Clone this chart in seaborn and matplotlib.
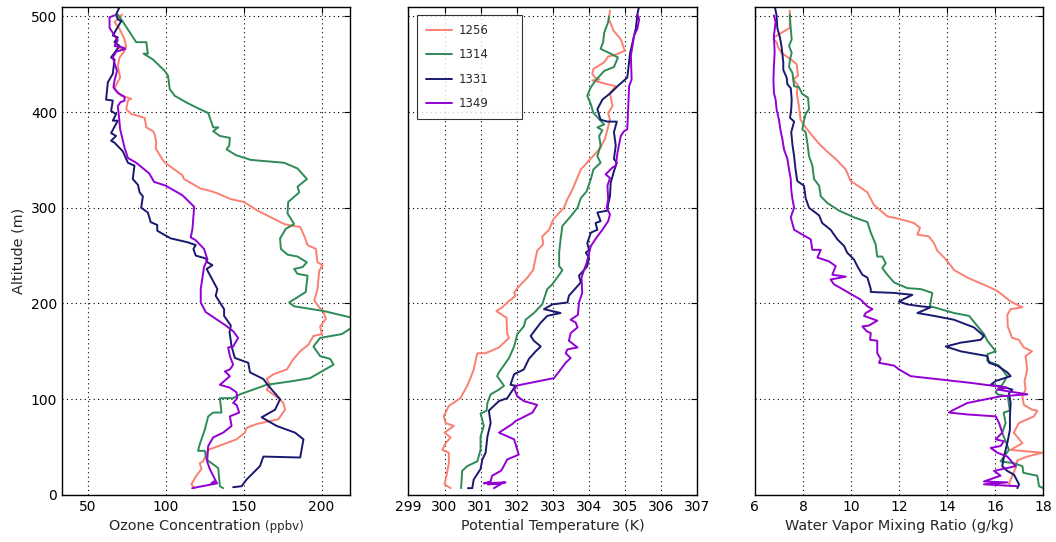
import matplotlib
matplotlib.use("Agg")
import matplotlib.pyplot as plt
import pandas as pd
import seaborn as sns

# profile times (legend) and colours
times = ["1256", "1314", "1331", "1349"]
colors = ["salmon", "seagreen", "midnightblue", "darkviolet"]

# (altitude m, value) pairs, top of profile first
# --- ozone (ppbv)
ozone_1256 = [(502, 72.1), (494, 67.2), (487, 70.4), (476, 73.6), (468, 74.7), (466, 70.8), (464, 73.8),
              (457, 70.4), (448, 69.3), (436, 70.8), (427, 67.8), (424, 67.2), (417, 71.5), (414, 77.9),
              (412, 75.8), (403, 74.7), (398, 77.9), (394, 86.5), (384, 87.6), (380, 91.8), (377, 92.9),
              (368, 94.0), (362, 93.6), (348, 98.9), (334, 110.7), (330, 111.8), (320, 122.5), (318, 127.8),
              (315, 133.2), (309, 141.8), (306, 150.3), (297, 158.9), (290, 167.5), (283, 176.0), (281, 181.4),
              (280, 186.3), (269, 189.3), (261, 191.0), (257, 196.4), (243, 197.4), (240, 200.6), (234, 198.5),
              (215, 197.4), (203, 195.3), (196, 198.5), (191, 201.3), (184, 202.8), (176, 199.1), (168, 200.2),
              (166, 194.8), (157, 191.6), (150, 186.3), (142, 182.0), (131, 177.7), (126, 169.1), (121, 164.8),
              (115, 167.0), (110, 164.8), (101, 172.3), (96, 175.5), (89, 176.6), (79, 172.3), (74, 158.4),
              (70, 151.9), (65, 150.9), (58, 145.5), (47, 127.3), (35, 124.0), (33, 121.9), (27, 123.0),
              (20, 119.7), (11, 116.5), (7, 118.6)]
ozone_1314 = [(502, 69.3), (497, 71.5), (473, 81.1), (473, 87.6), (461, 88.6), (461, 85.8), (455, 91.8),
              (443, 99.4), (438, 101.5), (424, 102.6), (417, 105.8), (410, 113.3), (403, 121.9), (399, 127.3),
              (384, 130.5), (384, 133.7), (380, 130.5), (375, 134.8), (373, 141.2), (365, 140.8), (361, 139.1),
              (355, 145.0), (350, 154.6), (347, 176.0), (341, 184.6), (330, 190.6), (322, 184.6), (316, 185.7),
              (306, 178.6), (294, 178.2), (283, 182.4), (278, 177.1), (268, 173.4), (257, 173.9), (251, 178.2),
              (249, 184.6), (243, 190.6), (238, 187.8), (236, 182.4), (231, 184.6), (229, 191.0), (212, 189.9),
              (201, 179.2), (197, 182.4), (192, 201.7), (185, 219.5), (175, 219.5), (168, 213.1), (164, 199.1),
              (155, 194.8), (145, 199.1), (142, 205.6), (136, 207.7), (128, 199.1), (122, 192.7), (119, 182.0),
              (115, 164.8), (110, 156.2), (105, 147.6), (101, 143.3), (101, 134.8), (86, 135.8), (86, 130.5),
              (82, 127.3), (68, 125.1), (53, 121.9), (46, 120.8), (46, 125.1), (37, 126.2), (28, 133.7),
              (9, 134.8), (7, 136.9)]
ozone_1331 = [(511, 70.8), (502, 68.2), (497, 69.3), (495, 71.5), (480, 66.1), (478, 69.3), (473, 67.2),
              (469, 70.4), (457, 65.0), (455, 67.2), (440, 66.1), (431, 62.9), (413, 61.8), (412, 66.1),
              (401, 65.0), (398, 68.2), (391, 66.1), (391, 69.3), (378, 65.0), (375, 68.2), (370, 65.0),
              (368, 67.2), (359, 72.5), (347, 75.8), (344, 80.0), (330, 78.9), (324, 82.2), (316, 83.3),
              (312, 85.4), (300, 84.3), (295, 88.6), (285, 90.4), (282, 94.6), (276, 94.6), (268, 103.2),
              (264, 113.9), (261, 119.3), (257, 117.8), (250, 119.3), (247, 125.7), (243, 126.8), (240, 130.0),
              (236, 126.3), (215, 133.2), (208, 132.1), (194, 137.5), (187, 137.5), (177, 141.8), (170, 141.0),
              (155, 142.3), (143, 144.4), (138, 153.0), (128, 154.1), (121, 162.7), (114, 165.9), (100, 173.4),
              (89, 170.2), (81, 161.6), (72, 171.2), (65, 183.0), (58, 188.4), (39, 186.3), (40, 162.7),
              (30, 160.5), (16, 151.9), (9, 148.7), (8, 143.3)]
ozone_1349 = [(501, 67.2), (499, 64.0), (488, 64.0), (480, 67.2), (475, 69.3), (469, 67.2), (468, 71.5),
              (466, 74.2), (463, 68.2), (457, 66.1), (448, 67.8), (443, 68.8), (433, 67.2), (426, 66.5),
              (420, 69.3), (416, 73.6), (412, 73.6), (410, 70.8), (406, 69.3), (396, 70.0), (382, 70.8),
              (363, 73.6), (352, 75.8), (347, 81.1), (336, 89.4), (327, 92.6), (323, 100.1), (313, 110.8),
              (301, 118.3), (278, 117.2), (269, 116.1), (267, 118.3), (266, 119.3), (257, 124.6), (246, 126.8),
              (238, 124.6), (215, 122.5), (201, 122.5), (191, 125.7), (184, 132.1), (177, 138.5), (171, 143.3),
              (164, 146.5), (155, 143.3), (154, 140.1), (145, 141.2), (136, 143.3), (131, 141.2), (129, 138.0),
              (124, 141.2), (115, 134.8), (112, 141.2), (107, 145.5), (101, 145.9), (96, 143.3), (94, 145.5),
              (86, 147.2), (82, 141.2), (72, 142.3), (65, 136.9), (60, 130.5), (51, 127.3), (35, 126.6),
              (27, 128.3), (20, 130.5), (13, 132.6), (12, 129.4), (14, 131.0), (12, 133.0), (7, 117.0)]

# --- potential temperature (K)
theta_1256 = [(506, 304.59), (497, 304.56), (485, 304.69), (476, 304.89), (464, 305.00), (460, 304.75),
              (458, 304.54), (452, 304.43), (445, 304.13), (440, 304.10), (436, 304.17), (434, 304.30),
              (433, 304.10), (427, 304.75), (420, 304.59), (406, 304.66), (399, 304.54), (392, 304.59),
              (379, 304.50), (372, 304.45), (363, 304.33), (358, 304.22), (340, 303.78), (319, 303.55),
              (309, 303.41), (300, 303.31), (288, 303.02), (277, 302.90), (270, 302.71), (262, 302.74),
              (255, 302.57), (239, 302.48), (235, 302.46), (227, 302.30), (216, 302.02), (211, 301.93),
              (208, 301.97), (201, 301.74), (196, 301.60), (192, 301.44), (185, 301.72), (168, 301.74),
              (164, 301.79), (154, 301.51), (148, 301.14), (148, 300.91), (131, 300.81), (122, 300.72),
              (114, 300.63), (101, 300.44), (93, 300.12), (82, 299.98), (75, 300.03), (72, 300.26),
              (65, 300.00), (60, 300.17), (54, 300.03), (47, 299.94), (44, 300.12), (33, 300.12),
              (23, 300.07), (11, 300.00), (7, 300.17)]
theta_1314 = [(500, 304.56), (494, 304.54), (483, 304.43), (473, 304.40), (466, 304.33), (461, 304.61),
              (457, 304.81), (447, 304.70), (443, 304.43), (433, 304.19), (426, 304.06), (417, 303.96),
              (408, 304.06), (399, 304.13), (387, 304.43), (384, 304.24), (381, 304.38), (375, 304.29),
              (365, 304.33), (354, 304.24), (347, 304.33), (340, 304.13), (330, 304.06), (317, 303.94),
              (310, 303.78), (300, 303.69), (291, 303.50), (281, 303.27), (267, 303.22), (253, 303.18),
              (239, 303.18), (235, 303.27), (232, 303.22), (220, 302.99), (215, 302.85), (199, 302.71),
              (190, 302.48), (183, 302.25), (176, 302.20), (168, 302.02), (155, 301.93), (143, 301.79),
              (128, 301.51), (124, 301.46), (114, 301.65), (110, 301.51), (105, 301.28), (96, 301.19),
              (88, 301.17), (85, 301.00), (72, 301.09), (61, 301.00), (47, 301.00), (35, 300.91),
              (30, 300.63), (25, 300.49), (7, 300.46)]
theta_1331 = [(511, 305.40), (502, 305.35), (488, 305.31), (462, 305.15), (436, 305.07), (427, 304.80),
              (420, 304.61), (413, 304.38), (403, 304.24), (392, 304.33), (390, 304.52), (390, 304.78),
              (379, 304.70), (365, 304.75), (351, 304.70), (347, 304.78), (337, 304.69), (326, 304.61),
              (312, 304.59), (304, 304.54), (297, 304.52), (295, 304.24), (286, 304.33), (284, 304.19),
              (277, 304.24), (274, 304.06), (263, 303.96), (256, 304.01), (253, 303.92), (248, 304.01),
              (239, 303.96), (235, 303.87), (229, 303.73), (222, 303.78), (208, 303.45), (201, 303.41),
              (199, 302.99), (194, 302.76), (192, 302.99), (190, 303.22), (187, 302.85), (180, 302.67),
              (166, 302.39), (161, 302.48), (155, 302.67), (150, 302.53), (142, 302.34), (131, 302.20),
              (126, 301.93), (115, 301.83), (114, 301.97), (101, 301.74), (98, 301.51), (88, 301.23),
              (75, 301.28), (61, 301.19), (44, 301.14), (37, 301.05), (27, 301.00), (16, 300.81),
              (7, 300.77), (7, 300.65)]
theta_1349 = [(502, 305.35), (497, 305.40), (487, 305.35), (480, 305.26), (459, 305.17), (434, 305.19),
              (427, 305.12), (399, 305.09), (382, 305.07), (380, 304.98), (375, 304.89), (358, 304.80),
              (344, 304.75), (342, 304.66), (335, 304.47), (331, 304.59), (323, 304.52), (309, 304.54),
              (300, 304.50), (293, 304.59), (286, 304.54), (277, 304.38), (269, 304.22), (260, 304.06),
              (242, 303.94), (235, 303.87), (227, 303.80), (211, 303.82), (201, 303.73), (188, 303.70),
              (183, 303.50), (180, 303.64), (175, 303.69), (169, 303.50), (161, 303.45), (154, 303.69),
              (152, 303.41), (148, 303.36), (143, 303.50), (138, 303.36), (131, 303.22), (122, 303.04),
              (115, 302.11), (114, 302.00), (110, 301.94), (103, 302.02), (98, 302.20), (94, 302.57),
              (86, 302.44), (77, 301.97), (74, 301.88), (65, 301.51), (58, 301.93), (42, 302.06),
              (37, 301.74), (27, 301.60), (25, 301.56), (20, 301.32), (14, 301.28), (12, 301.09),
              (13, 301.69), (11, 301.20), (12, 301.60), (7, 301.37)]

# --- water vapour mixing ratio (g/kg)
wv_1256 = [(506, 7.45), (488, 7.45), (478, 6.79), (476, 6.77), (473, 6.90), (468, 6.96), (462, 7.10),
           (455, 7.49), (450, 7.74), (438, 7.79), (434, 7.60), (428, 7.79), (420, 7.74), (406, 7.83),
           (392, 7.90), (384, 8.11), (375, 8.39), (365, 8.74), (357, 9.08), (351, 9.36), (340, 9.78),
           (328, 9.98), (321, 10.40), (316, 10.68), (303, 10.95), (297, 11.23), (291, 11.51), (288, 12.06),
           (284, 12.62), (279, 12.87), (272, 12.76), (270, 13.24), (263, 13.45), (255, 13.59), (248, 13.87),
           (239, 14.17), (235, 14.28), (227, 14.84), (218, 15.67), (213, 16.09), (202, 16.64), (196, 17.13),
           (194, 16.64), (188, 16.50), (176, 16.52), (164, 16.70), (162, 16.98), (154, 17.19), (150, 17.53),
           (145, 17.26), (131, 17.33), (119, 17.22), (110, 17.26), (103, 17.13), (94, 17.19), (89, 17.53),
           (88, 17.75), (82, 17.61), (75, 16.98), (65, 16.77), (54, 17.13), (47, 16.64), (44, 17.96),
           (40, 17.33), (36, 16.92), (28, 16.85), (12, 16.57), (9, 16.64)]
wv_1314 = [(502, 7.45), (487, 7.49), (476, 7.53), (469, 7.42), (462, 7.53), (455, 7.46), (447, 7.42),
           (441, 7.56), (427, 7.63), (426, 7.83), (419, 7.97), (415, 8.21), (403, 8.25), (398, 8.11),
           (391, 8.04), (382, 7.97), (379, 8.11), (368, 8.18), (354, 8.25), (344, 8.39), (330, 8.46),
           (323, 8.67), (312, 8.74), (305, 9.01), (297, 9.50), (290, 10.12), (285, 10.68), (274, 10.82),
           (262, 11.02), (249, 11.09), (249, 11.30), (242, 11.44), (237, 11.30), (230, 11.51), (222, 11.79),
           (216, 12.34), (215, 12.90), (211, 13.38), (197, 13.28), (196, 13.45), (190, 14.28), (187, 14.91),
           (168, 15.53), (161, 15.67), (150, 16.02), (147, 15.67), (140, 15.67), (135, 16.16), (124, 16.50),
           (115, 16.29), (108, 16.02), (105, 16.09), (103, 16.52), (88, 16.61), (86, 16.35), (75, 16.43),
           (65, 16.29), (47, 16.57), (35, 16.22), (33, 16.77), (30, 17.13), (23, 17.17), (20, 17.75),
           (9, 17.82), (7, 18.00)]
wv_1331 = [(511, 6.82), (501, 6.90), (488, 6.93), (478, 7.04), (468, 7.11), (452, 7.18), (444, 7.18),
           (436, 7.32), (429, 7.35), (425, 7.49), (413, 7.53), (403, 7.51), (394, 7.46), (390, 7.63),
           (379, 7.51), (366, 7.56), (354, 7.63), (340, 7.69), (328, 7.76), (323, 8.04), (310, 8.11),
           (300, 8.25), (292, 8.67), (284, 8.80), (277, 9.15), (267, 9.43), (260, 9.71), (253, 9.84),
           (246, 10.12), (239, 10.26), (230, 10.47), (227, 10.68), (215, 10.82), (212, 10.82), (211, 11.79),
           (209, 12.55), (202, 11.99), (199, 12.34), (197, 12.90), (196, 13.31), (190, 12.76), (187, 13.45),
           (183, 14.28), (175, 15.11), (166, 15.53), (162, 15.39), (159, 14.56), (155, 13.94), (150, 14.56),
           (145, 15.67), (138, 15.74), (135, 16.09), (128, 16.50), (124, 16.64), (119, 16.02), (115, 15.81),
           (113, 16.29), (110, 16.71), (106, 16.57), (96, 16.64), (82, 16.61), (68, 16.61), (54, 16.50),
           (40, 16.36), (30, 16.29), (25, 16.50), (21, 16.78), (11, 16.99), (7, 16.92)]
wv_1349 = [(501, 6.79), (494, 6.86), (480, 6.79), (462, 6.82), (448, 6.79), (434, 6.77), (420, 6.79),
           (413, 6.86), (403, 6.90), (392, 7.00), (380, 7.07), (372, 7.14), (361, 7.21), (351, 7.35),
           (340, 7.42), (330, 7.49), (319, 7.51), (309, 7.56), (300, 7.63), (290, 7.49), (277, 7.63),
           (272, 7.97), (267, 8.32), (256, 8.39), (256, 8.74), (248, 8.60), (244, 9.08), (239, 9.36),
           (230, 9.22), (228, 9.78), (225, 9.15), (220, 9.29), (215, 9.64), (208, 10.12), (204, 10.40),
           (197, 10.68), (194, 10.89), (190, 10.61), (187, 10.54), (182, 11.09), (177, 10.75), (176, 10.47),
           (171, 10.65), (169, 10.82), (162, 10.79), (161, 11.09), (148, 11.09), (142, 11.23), (138, 11.16),
           (135, 11.79), (131, 12.00), (124, 12.48), (117, 14.98), (112, 16.50), (110, 16.09), (105, 17.34),
           (103, 16.23), (96, 14.84), (89, 14.28), (86, 14.07), (84, 14.84), (82, 16.02), (75, 16.16),
           (65, 16.29), (58, 16.02), (56, 16.36), (51, 16.22), (49, 15.81), (44, 16.09), (40, 16.50),
           (30, 16.85), (25, 15.95), (20, 16.22), (14, 15.53), (13, 16.50), (11, 15.53), (9, 16.92)]

ozone = [ozone_1256, ozone_1314, ozone_1331, ozone_1349]
theta = [theta_1256, theta_1314, theta_1331, theta_1349]
wv = [wv_1256, wv_1314, wv_1331, wv_1349]


def long_df(profiles, name):
    rows = []
    for t, prof in zip(times, profiles):
        for alt, v in prof:
            rows.append({"Altitude": alt, name: v, "Time": t})
    return pd.DataFrame(rows)


sns.set_style("white")
plt.rcParams.update({
    "xtick.direction": "in", "ytick.direction": "in",
    "xtick.top": True, "ytick.right": True,
    "xtick.major.size": 4, "ytick.major.size": 4,
    "xtick.major.width": 0.8, "ytick.major.width": 0.8,
    "axes.edgecolor": "black", "axes.linewidth": 1.0,
    "xtick.color": "black", "ytick.color": "black",
    "xtick.labelsize": 10, "ytick.labelsize": 10,
})
plt.rcParams["font.family"] = ["DejaVu Sans"]

fig, axes = plt.subplots(1, 3, figsize=(10.56, 5.42), dpi=100, sharey=True)
fig.subplots_adjust(left=0.0587, right=0.988, bottom=0.087, top=0.9875, wspace=0.2014)

palette = dict(zip(times, colors))
panels = [
    (ozone, "Ozone", (33.5, 218.5), [50, 100, 150, 200]),
    (theta, "Theta", (299, 307), list(range(299, 308))),
    (wv, "WV", (6, 18), list(range(6, 19, 2))),
]

for i, (ax, (profiles, name, xlim, xticks)) in enumerate(zip(axes, panels)):
    df = long_df(profiles, name)
    sns.lineplot(data=df, x=name, y="Altitude", hue="Time", palette=palette,
                 sort=False, estimator=None, lw=1.4, ax=ax, legend=(i == 1))
    ax.set_xlim(*xlim)
    ax.set_xticks(xticks)
    ax.set_ylim(0, 510)
    ax.set_yticks(range(0, 501, 100))
    ax.grid(True, color="black", linestyle=(0, (1, 3)), linewidth=0.8)
    ax.set_ylabel("")

axes[0].set_ylabel("Altitude (m)", fontsize=10.4)
axes[0].set_xlabel("Ozone Concentration", fontsize=10.4, x=0.425)
axes[0].annotate("(ppbv)", xy=(1, 0), xycoords=axes[0].xaxis.label, xytext=(3, 0),
                 textcoords="offset points", fontsize=8.5, va="bottom")
axes[1].set_xlabel("Potential Temperature (K)", fontsize=10.4)
axes[2].set_xlabel("Water Vapor Mixing Ratio (g/kg)", fontsize=10.4)

leg = axes[1].legend(loc="upper left", bbox_to_anchor=(0.03, 0.0, 0.364, 0.9836), mode="expand",
                     fontsize=8.5, fancybox=False, edgecolor="black", borderpad=0.75,
                     labelspacing=0.98, handlelength=2.2, handletextpad=0.6, borderaxespad=0)
leg.get_frame().set_linewidth(0.8)

fig.savefig("out.png", dpi=100)
